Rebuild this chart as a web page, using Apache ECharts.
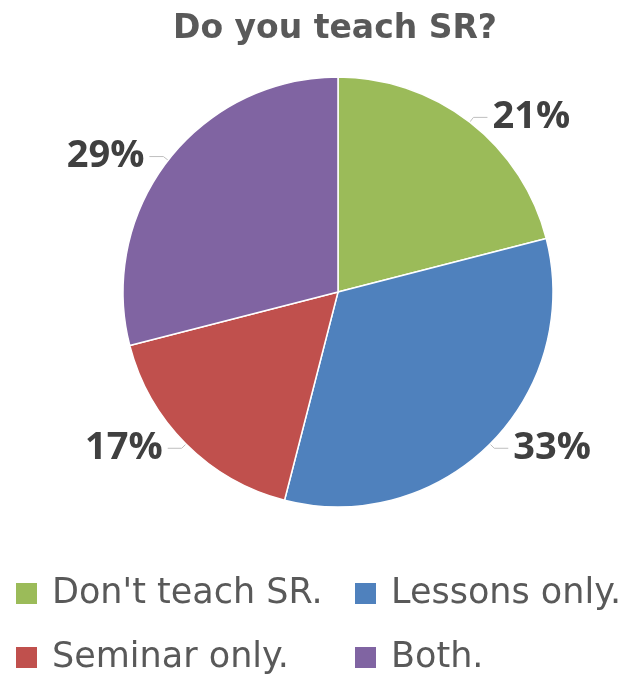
<!DOCTYPE html>
<html>
<head>
<meta charset="utf-8">
<script src="https://cdn.jsdelivr.net/npm/echarts@6/dist/echarts.min.js"></script>
<style>
    html, body { margin: 0; padding: 0; background: #fff; }
    #main { width: 641px; height: 677px; }
</style>
</head>
<body>
<div id="main"></div>
<script>
const categories = ["Don't teach SR.", 'Lessons only.', 'Seminar only.', 'Both.'];
const values = [21, 33, 17, 29];
const colors = ['#9BBB59', '#4F81BD', '#C0504D', '#8064A2'];

const wideFont = '"DejaVu Sans", "Liberation Sans", Arial, sans-serif';
const labelFont = '"Open Sans", "Liberation Sans", Arial, sans-serif';

// one legend per item so the two columns line up like the original grid
const legendPos = [[14, 576], [353, 576], [14, 640], [353, 640]];
const legends = categories.map((name, i) => ({
    data: [name],
    left: legendPos[i][0],
    top: legendPos[i][1],
    padding: 0,
    icon: 'rect',
    itemWidth: 23,
    itemHeight: 23,
    itemGap: 0,
    selectedMode: false,
    textStyle: {
        fontSize: 35, lineHeight: 32, color: '#595959', fontFamily: wideFont,
        padding: [0, 0, 0, 9]
    }
}));

const myChart = echarts.init(document.getElementById('main'));
myChart.setOption({
    animation: false,
    color: colors,
    title: {
        text: 'Do you teach SR?',
        left: 168,
        top: 8,
        textStyle: { fontSize: 33, fontWeight: 'bold', color: '#595959', fontFamily: wideFont }
    },
    legend: legends,
    series: [{
        type: 'pie',
        center: [338, 292],
        radius: 215,
        startAngle: 90,
        clockwise: true,
        data: categories.map((name, i) => ({ name: name, value: values[i] })),
        itemStyle: { borderColor: '#fff', borderWidth: 1.5 },
        label: {
            show: true,
            position: 'outside',
            formatter: '{d}%',
            fontSize: 38,
            fontWeight: 'bold',
            color: '#404040',
            fontFamily: labelFont
        },
        labelLine: {
            show: true,
            length: 6,
            length2: 14,
            lineStyle: { color: '#bfbfbf', width: 1 }
        }
    }]
});
</script>
</body>
</html>
